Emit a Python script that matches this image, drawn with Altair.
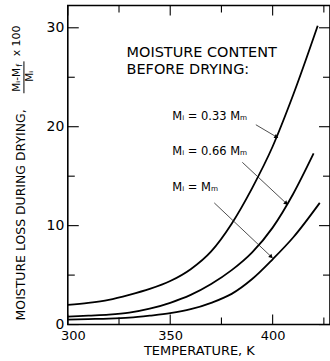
import altair as alt
import pandas as pd

# Moisture loss during drying vs temperature, for three initial moisture contents
temps_033 = [300, 310, 320, 330, 340, 350, 360, 370, 380, 390, 400, 410, 422]
loss_033 = [2.0, 2.2, 2.5, 3.0, 3.6, 4.4, 5.6, 7.4, 10.2, 13.8, 18.0, 23.2, 30.2]

temps_066 = [300, 310, 320, 330, 340, 350, 360, 370, 380, 390, 400, 410, 420]
loss_066 = [0.8, 0.9, 1.0, 1.2, 1.6, 2.2, 3.0, 4.1, 5.5, 7.3, 9.8, 13.2, 17.3]

temps_100 = [300, 310, 320, 330, 340, 350, 360, 370, 380, 390, 400, 410, 423]
loss_100 = [0.5, 0.55, 0.6, 0.7, 0.9, 1.15, 1.55, 2.2, 3.1, 4.6, 6.6, 8.8, 12.3]

series_names = ["0.33", "0.66", "1.00"]

# curve labels (left end of text, in data units) and leader lines
curve_labels = ["Mᵢ = 0.33 Mₘ", "Mᵢ = 0.66 Mₘ", "Mᵢ = Mₘ"]
label_t = [351.0, 351.0, 351.0]
label_v = [21.0, 17.45, 13.8]

leader_t0 = [391.8, 385.2, 371.5]
leader_v0 = [20.2, 16.4, 12.3]
leader_t1 = [401.6, 406.4, 399.1]
leader_v1 = [19.0, 12.3, 6.9]
arrow_angle = [120, 133, 133]

heading_lines = ["MOISTURE CONTENT", "BEFORE DRYING:"]
heading_t = [328.7, 328.7]
heading_v = [28.15, 26.45]

x_major = [300, 350, 400]
x_minor = [325, 375, 425]
y_major = [0, 10, 20, 30]
y_minor = [5, 15, 25]

W, H = 263, 320
X_DOMAIN = [300, 428]
Y_DOMAIN = [0, 32.25]
FONT = "DejaVu Sans"

rows = []
for name, ts, vs in zip(series_names, [temps_033, temps_066, temps_100],
                        [loss_033, loss_066, loss_100]):
    for t, v in zip(ts, vs):
        rows.append({"series": name, "T": t, "v": v})
curves = pd.DataFrame(rows)

xs = alt.Scale(domain=X_DOMAIN, nice=False, zero=False)
ys = alt.Scale(domain=Y_DOMAIN, nice=False, zero=False)

label_x_axis = alt.Axis(
    orient="bottom", values=x_major, ticks=False, tickSize=0, domain=False, grid=False,
    labelFont=FONT, labelFontSize=13, labelColor="black", labelPadding=5,
    labelFlush=False,
    labelOffset={"condition": {"test": "datum.value === 300", "value": 5}, "value": 0},
    title="TEMPERATURE, K", titleFont=FONT, titleFontSize=13, titleFontWeight="normal",
    titleColor="black", titlePadding=2,
)
label_y_axis = alt.Axis(
    orient="left", values=y_major, ticks=False, tickSize=0, domain=False, grid=False,
    labelFont=FONT, labelFontSize=14, labelColor="black", labelPadding=4, title=None,
)

lines = alt.Chart(curves).mark_line(
    color="black", strokeWidth=1.8, interpolate="monotone"
).encode(
    x=alt.X("T:Q", scale=xs, axis=label_x_axis),
    y=alt.Y("v:Q", scale=ys, axis=label_y_axis),
    detail="series:N",
)


# inward ticks on all four sides of the frame
def x_ticks(values, y0, y1):
    return alt.Chart(pd.DataFrame({"t": values})).mark_rule(
        color="black", strokeWidth=1.1
    ).encode(
        x=alt.X("t:Q", scale=xs, axis=None), y=alt.value(y0), y2=alt.value(y1)
    )


def y_ticks(values, x0, x1):
    return alt.Chart(pd.DataFrame({"v": values})).mark_rule(
        color="black", strokeWidth=1.1
    ).encode(
        y=alt.Y("v:Q", scale=ys, axis=None), x=alt.value(x0), x2=alt.value(x1)
    )


ticks = [
    x_ticks(x_major, H, H - 10), x_ticks(x_minor, H, H - 7),
    x_ticks(x_major, 0, 10), x_ticks(x_minor, 0, 7),
    y_ticks(y_major, 0, 11), y_ticks(y_minor, 0, 7),
    y_ticks(y_major, W, W - 11), y_ticks(y_minor, W, W - 7),
]

leaders_df = pd.DataFrame({
    "t0": leader_t0, "v0": leader_v0, "t1": leader_t1, "v1": leader_v1,
    "angle": arrow_angle,
})
leaders = alt.Chart(leaders_df).mark_rule(color="#222", strokeWidth=0.8).encode(
    x=alt.X("t0:Q", scale=xs, axis=None), y=alt.Y("v0:Q", scale=ys, axis=None),
    x2="t1:Q", y2="v1:Q",
)
arrows = alt.Chart(leaders_df).mark_point(
    shape="triangle", filled=True, color="black", size=22, opacity=1
).encode(
    x=alt.X("t1:Q", scale=xs, axis=None), y=alt.Y("v1:Q", scale=ys, axis=None),
    angle=alt.Angle("angle:Q", scale=None),
)

labels_df = pd.DataFrame({"text": curve_labels, "T": label_t, "v": label_v})
labels = alt.Chart(labels_df).mark_text(
    font=FONT, fontSize=11.5, align="left", baseline="middle", color="black"
).encode(
    x=alt.X("T:Q", scale=xs, axis=None), y=alt.Y("v:Q", scale=ys, axis=None),
    text="text:N",
)

heading_df = pd.DataFrame({"text": heading_lines, "T": heading_t, "v": heading_v})
heading_mark = alt.Chart(heading_df).mark_text(
    font=FONT, fontSize=14.5, align="left", baseline="top", color="black",
).encode(
    x=alt.X("T:Q", scale=xs, axis=None), y=alt.Y("v:Q", scale=ys, axis=None),
    text="text:N",
)

# rotated y-axis title with the fraction (M_i - M_f) / M_i x 100
one = pd.DataFrame({"k": [0]})


def vtext(txt, x, y, size):
    return alt.Chart(one).mark_text(
        text=txt, font=FONT, fontSize=size, angle=270, align="center",
        baseline="middle", color="black",
    ).encode(x=alt.value(x), y=alt.value(y))


ytitle = [
    vtext("MOISTURE LOSS DURING DRYING,", -47, 210, 12.5),
    vtext("Mᵢ-M", -50.5, 74.5, 10.5),
    vtext("f", -47.5, 60, 8),
    vtext("Mᵢ", -37.5, 71, 10.5),
    vtext("x 100", -50.5, 35.5, 11),
]
frac_bar = alt.Chart(one).mark_rule(color="black", strokeWidth=1).encode(
    x=alt.value(-44), y=alt.value(56), y2=alt.value(88)
)

chart = alt.layer(
    lines, *ticks, leaders, arrows, labels, heading_mark, *ytitle, frac_bar
).resolve_axis(
    x="independent", y="independent"
).properties(
    width=W, height=H,
    autosize=alt.AutoSizeParams(type="none"),
    padding={"left": 68, "top": 5, "right": 0, "bottom": 36},
    background="white",
).configure_view(
    stroke="black", strokeWidth=1.6
)

chart.save("out.html", embed_options={"renderer": "svg", "actions": False})
